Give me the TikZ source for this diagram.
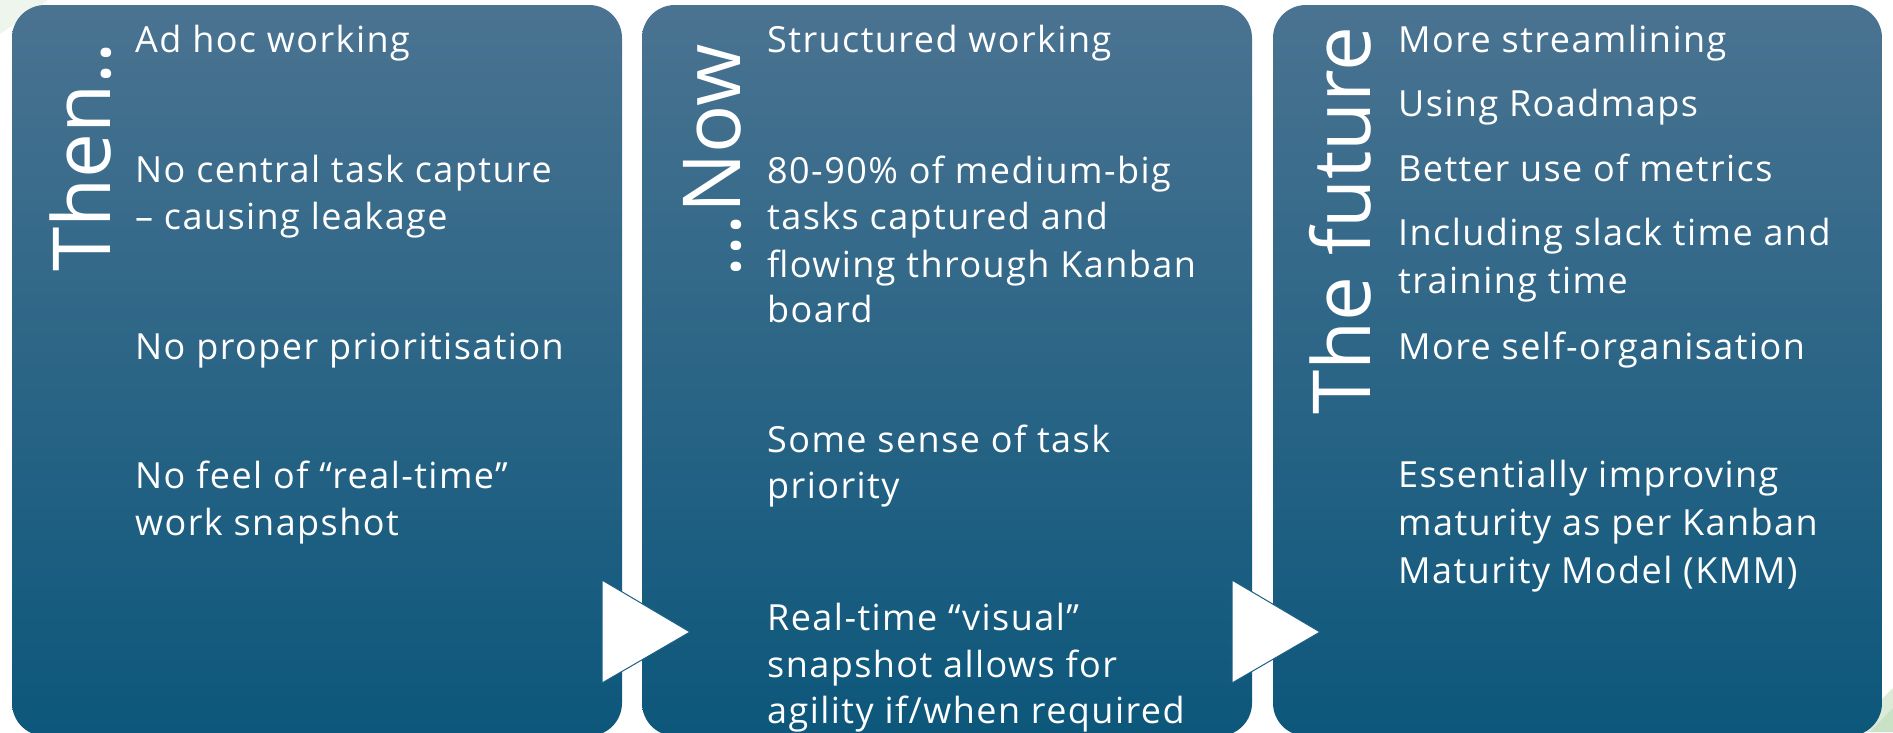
\documentclass[tikz,border=0pt]{standalone}
\usepackage{fontspec}
\setmainfont{Open Sans}
\newfontfamily\bodyfont[LetterSpace=4]{Open Sans}
\definecolor{paneltop}{HTML}{4A7391}
\definecolor{panelmid}{HTML}{17638A}
\definecolor{panelbot}{HTML}{0C577B}
\definecolor{triedge}{HTML}{1B5F84}
\definecolor{paleA}{HTML}{EEF5EC}
\definecolor{paleB}{HTML}{DCEBD7}
\definecolor{paleC}{HTML}{C9E1C4}
\begin{document}
\begin{tikzpicture}[x=1pt,y=-1pt,
  panel/.style={top color=paneltop, middle color=panelmid, bottom color=panelbot, rounded corners=33pt},
  item/.style={anchor=base west, text=white, inner sep=0pt, font=\bodyfont\fontsize{36}{44}\selectfont},
  ttl/.style={anchor=base west, rotate=90, text=white, inner sep=0pt, font=\fontsize{80}{96}\selectfont},
  tri/.style={fill=white, draw=triedge, line width=1pt, line join=miter}]
\useasboundingbox (0,0) rectangle (1893,732);
\fill[white] (0,0) rectangle (1893,732);
% pale green corner decorations
\fill[paleA] (0,0) -- (48,0) -- (0,34) -- cycle;
\fill[paleB] (1893,688) -- (1893,732) -- (1848,732) -- cycle;
\fill[paleC] (1893,708) -- (1893,732) -- (1870,732) -- cycle;
% panels
\shade[panel] (12,5) rectangle (622,736);
\shade[panel] (642,5) rectangle (1252,736);
\shade[panel] (1273,5) rectangle (1882,736);
% titles
\node[ttl] (t1) at (110,272) {Then..};
\node[ttl] (t2) at (740,278) {...Now};
\node[ttl] (t3) at (1370,415) {The future};
% panel 1
\node[item] (a1) at (135,52) {Ad hoc working};
\node[item] (a2) at (135,182) {No central task capture};
\node[item] (a3) at (135,229) {– causing leakage};
\node[item] (a4) at (135,359) {No proper prioritisation};
\node[item] (a5) at (135,488) {No feel of “real-time”};
\node[item] (a6) at (135,535) {work snapshot};
% panel 2
\node[item] (b1) at (767,52) {Structured working};
\node[item] (b2) at (767,183) {80-90\% of medium-big};
\node[item] (b3) at (767,229) {tasks captured and};
\node[item] (b4) at (767,277) {flowing through Kanban};
\node[item] (b5) at (767,322) {board};
\node[item] (b6) at (767,452) {Some sense of task};
\node[item] (b7) at (767,498) {priority};
\node[item] (b8) at (767,630) {Real-time “visual”};
\node[item] (b9) at (767,677) {snapshot allows for};
\node[item] (b10) at (767,723) {agility if/when required};
% panel 3
\node[item] (c1) at (1398,52) {More streamlining};
\node[item] (c2) at (1398,116) {Using Roadmaps};
\node[item] (c3) at (1398,181) {Better use of metrics};
\node[item] (c4) at (1398,245) {Including slack time and};
\node[item] (c5) at (1398,293) {training time};
\node[item] (c6) at (1398,359) {More self-organisation};
\node[item] (c7) at (1398,487) {Essentially improving};
\node[item] (c8) at (1398,535) {maturity as per Kanban};
\node[item] (c9) at (1398,583) {Maturity Model (KMM)};
% arrows
\draw[tri] (602,580) -- (690,632) -- (602,683) -- cycle;
\draw[tri] (1232,580) -- (1320,632) -- (1232,683) -- cycle;
\end{tikzpicture}
\end{document}
